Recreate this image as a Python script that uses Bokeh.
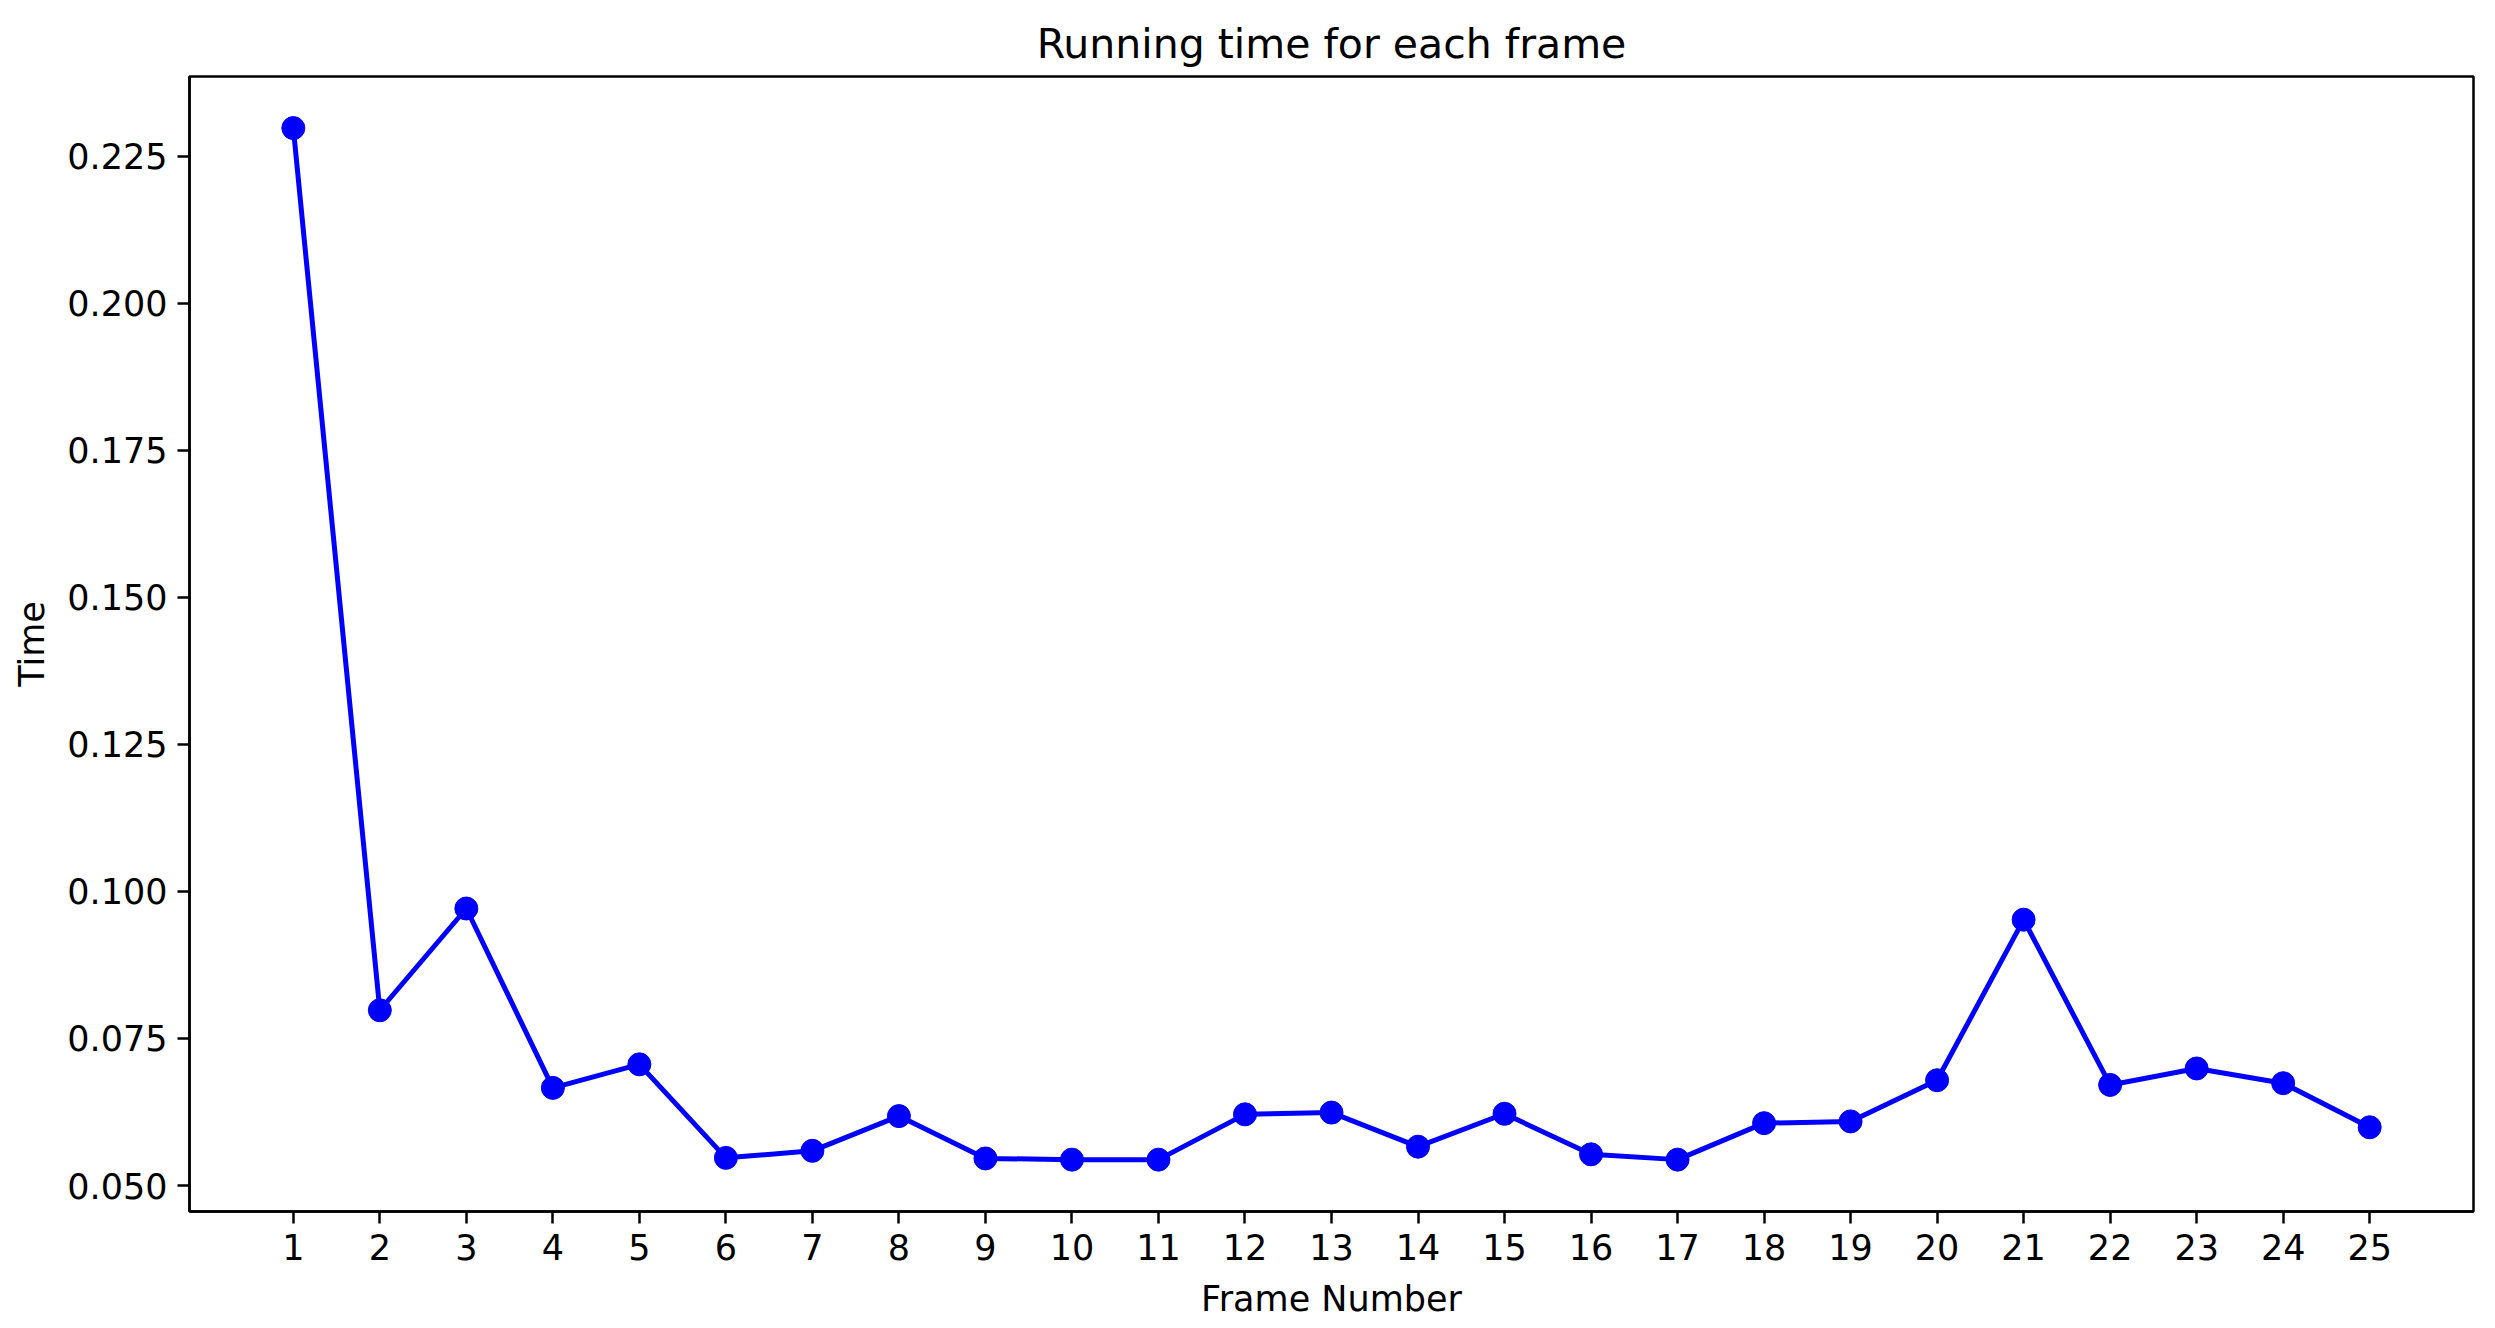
from bokeh.plotting import figure
from bokeh.models import FixedTicker, NumeralTickFormatter, Range1d
from bokeh.embed import file_html
from bokeh.resources import INLINE

frames = list(range(1, 26))
times = [0.2298, 0.0798, 0.0971, 0.0666, 0.0706, 0.0547, 0.0559, 0.0618, 0.0546, 0.0544,
         0.0544, 0.0621, 0.0624, 0.0566, 0.0622, 0.0553, 0.0544, 0.0606, 0.0609, 0.0679,
         0.0952, 0.0671, 0.0699, 0.0674, 0.0599]
y_ticks = [0.050, 0.075, 0.100, 0.125, 0.150, 0.175, 0.200, 0.225]

FONT = "DejaVu Sans"

p = figure(frame_width=2284, frame_height=1135,
           min_border_left=189, min_border_top=76, min_border_right=6, min_border_bottom=101,
           output_backend="svg", toolbar_location=None,
           x_range=Range1d(-0.2, 26.2), y_range=Range1d(0.04558, 0.23857))

p.title.text = "Running time for each frame"
p.title.align = "center"
p.title.text_font = FONT
p.title.text_font_size = "41px"
p.title.text_font_style = "normal"
p.title.text_color = "#000000"
p.title.standoff = 18

p.line(frames, times, line_width=5, color="#0000ff")
p.scatter(frames, times, size=23, color="#0000ff")

p.xgrid.visible = False
p.ygrid.visible = False
p.outline_line_color = "#000000"
p.outline_line_width = 2.5
p.outline_line_alpha = 1.0
p.background_fill_color = "white"
p.border_fill_color = "white"

p.xaxis.ticker = FixedTicker(ticks=frames)
p.yaxis.ticker = FixedTicker(ticks=y_ticks)
p.yaxis.formatter = NumeralTickFormatter(format="0.000")
p.xaxis.axis_label = "Frame Number"
p.yaxis.axis_label = "Time"

for ax in (p.xaxis, p.yaxis):
    ax.axis_line_color = "#000000"
    ax.axis_line_width = 2.5
    ax.major_tick_line_color = "#000000"
    ax.major_tick_line_width = 2.5
    ax.major_tick_out = 12
    ax.major_tick_in = 0
    ax.minor_tick_line_color = None
    ax.major_label_text_font = FONT
    ax.major_label_text_font_size = "35px"
    ax.major_label_text_color = "#000000"
    ax.axis_label_text_font = FONT
    ax.axis_label_text_font_size = "35px"
    ax.axis_label_text_font_style = "normal"
    ax.axis_label_text_color = "#000000"
    ax.major_label_standoff = 10

p.xaxis.axis_label_standoff = 16
p.yaxis.axis_label_standoff = 12

open("out.html", "w").write(file_html(p, INLINE))
